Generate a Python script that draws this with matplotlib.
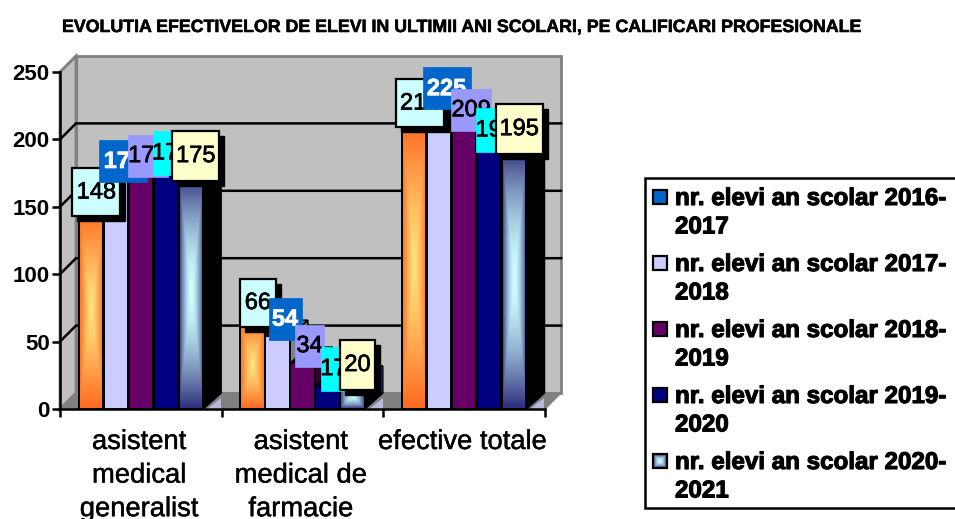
import numpy as np
import matplotlib
matplotlib.use("Agg")
import matplotlib.pyplot as plt
from matplotlib.patches import Polygon, Rectangle
from matplotlib.colors import LinearSegmentedColormap
import matplotlib.patheffects as pe

categories = ["asistent\nmedical\ngeneralist", "asistent\nmedical de\nfarmacie", "efective totale"]
series_labels = ["nr. elevi an scolar 2016-\n2017", "nr. elevi an scolar 2017-\n2018",
                 "nr. elevi an scolar 2018-\n2019", "nr. elevi an scolar 2019-\n2020",
                 "nr. elevi an scolar 2020-\n2021"]
v2016 = [148, 66, 214]
v2017 = [171, 54, 225]
v2018 = [175, 34, 209]
v2019 = [177, 17, 194]
v2020 = [175, 20, 195]
series = [v2016, v2017, v2018, v2019, v2020]
yticks = [0, 50, 100, 150, 200, 250]
title = "EVOLUTIA EFECTIVELOR DE ELEVI IN ULTIMII ANI SCOLARI, PE CALIFICARI PROFESIONALE"

W, H = 955, 519
fig = plt.figure(figsize=(W/100, H/100), dpi=100, facecolor="white")
# front plane of the 3-D box
L, R, B, T = 60, 545, 409, 72
ax = fig.add_axes([L/W, (H-B)/H, (R-L)/W, (B-T)/H])
ax.set_xlim(0, 3); ax.set_ylim(0, 250)
ax.patch.set_visible(False)
px = 3/(R-L); py = 250/(B-T)       # data units per pixel
dx, dy = 16*px, 16*py              # box depth
bdx, bdy = 18*px, 16*py            # bar depth

WALL = "#C0C0C0"; EDGE = "#808080"
ax.add_patch(Polygon([(dx, dy), (3+dx, dy), (3+dx, 250+dy), (dx, 250+dy)], fc=WALL, ec=EDGE, lw=2, clip_on=False, zorder=0.5))
ax.add_patch(Polygon([(0, 0), (dx, dy), (dx, 250+dy), (0, 250)], fc=WALL, ec=EDGE, lw=2, clip_on=False, zorder=0.5))
ax.add_patch(Polygon([(0, 0), (3, 0), (3+dx, dy), (dx, dy)], fc=EDGE, ec=EDGE, lw=1, clip_on=False, zorder=0.6))
for v in yticks[1:-1]:
    ax.plot([0, dx, 3+dx], [v, v+dy, v+dy], color="black", lw=1.8, clip_on=False, zorder=0.7)
ax.plot([0, dx], [250, 250+dy], color=EDGE, lw=1.6, clip_on=False, zorder=0.7)

def rect_gradient(c_edge, c_mid, n=60, power=1.0):
    cm = LinearSegmentedColormap.from_list("g", [c_mid, c_edge])
    u = np.abs(np.linspace(-1, 1, n))
    return cm(np.maximum.outer(u, u)**power)

face_colors = ["#FF6A20", "#CCCCFF", "#660066", "#000080", None]
side_colors = ["#803000", "#808088", "#330033", "#000040", "#000000"]
bar_w = 24.5*px
grad = {0: rect_gradient("#FF6A20", "#FFE680", power=1.2), 4: rect_gradient("#30307F", "#CCFFFF", power=1.7)}

box_fc = ["#CCFFFF", "#0066CC", "#9999FF", "#00FFFF", "#FFFFCC"]
box_h = [48, 42, 42, 44, 50]
box_w3 = [48, 48, 40, 38, 47]
box_w2 = [36, 33, 29, 26, 35]
box_off = [5.5, 7.5, 7, 6, 5]
txt_col = ["black", "white", "black", "black", "black"]
outlined = [True, False, False, False, True]

for g in range(3):
    for s, vals in enumerate(series):
        v = vals[g]
        x0 = g + 0.5 + (s - 2)*(25*px) - bar_w/2
        x1 = x0 + bar_w
        z = 1 + s*0.1 + g
        ax.add_patch(Polygon([(x1, 0), (x1+bdx, bdy), (x1+bdx, v+bdy), (x1, v)], fc=side_colors[s], ec="black", lw=1.2, clip_on=False, zorder=z))
        ax.add_patch(Polygon([(x0, v), (x1, v), (x1+bdx, v+bdy), (x0+bdx, v+bdy)], fc=side_colors[s], ec="black", lw=1.2, clip_on=False, zorder=z))
        if s == 4:
            # lit floor triangle below the last bar and the dark upper end of its side
            ax.add_patch(Polygon([(x1+4*px, 0), (x1+bdx, 0), (x1+bdx, 11*py)], fc="#B8B8DC", ec="none", clip_on=False, zorder=0.8))
            ax.add_patch(Polygon([(x1+bdx-5*px, v+bdy-4*py), (x1+bdx, v+bdy), (x1+bdx, v+bdy-26*py), (x1+bdx-5*px, v+bdy-26*py)], fc="#1C1C60", ec="none", clip_on=False, zorder=z+0.01))
        if s in grad:
            ax.imshow(grad[s], extent=(x0, x1, 0, v), aspect="auto", interpolation="bilinear", zorder=z+0.02, clip_on=False)
            ax.add_patch(Rectangle((x0, 0), bar_w, v, fc="none", ec="black", lw=1.4, clip_on=False, zorder=z+0.03))
        else:
            ax.bar(x0 + bar_w/2, v, width=bar_w, color=face_colors[s], edgecolor="black", linewidth=1.4, zorder=z+0.02, clip_on=False)
        # data label box
        w = (box_w3 if v >= 100 else box_w2)[s]*px
        h = box_h[s]*py
        cx = (x0 + x1)/2 + box_off[s]*px
        cy = v + 17.5*py
        zb = 10 + s*2 + g*20
        if outlined[s]:
            ax.add_patch(Rectangle((cx-w/2+5*px, cy-h/2-5*py), w, h, fc="black", ec="black", lw=1, clip_on=False, zorder=zb))
        ax.add_patch(Rectangle((cx-w/2, cy-h/2), w, h, fc=box_fc[s], ec="black" if outlined[s] else box_fc[s], lw=1.6 if outlined[s] else 0.5, clip_on=False, zorder=zb+0.5))
        ax.text(cx, cy-0.5*py, str(v), ha="center", va="center", color=txt_col[s], fontsize=17,
                family="Liberation Sans", fontweight="bold" if s == 1 else "normal", clip_on=False, zorder=zb+1,
                path_effects=[pe.withStroke(linewidth=0.5, foreground=txt_col[s])])

# axes
for k in ("top", "right"):
    ax.spines[k].set_visible(False)
for k in ("left", "bottom"):
    ax.spines[k].set_linewidth(1.8); ax.spines[k].set_zorder(0.9)
ax.set_yticks(yticks)
ax.set_yticklabels([str(t) for t in yticks], fontsize=16, family="Liberation Sans", fontweight="bold")
ax.tick_params(axis="y", length=6, width=1.8, pad=1.5)
ax.set_xticks([0, 1, 2, 3], labels=["", "", "", ""])
ax.tick_params(axis="x", which="major", length=6, width=1.8)
for i, c in enumerate(categories):
    ax.text(i + 0.49, -20*py, c, ha="center", va="top", fontsize=19.7, family="Liberation Sans",
            linespacing=1.38, clip_on=False, path_effects=[pe.withStroke(linewidth=0.3, foreground="black")])

# overlay in pixel coordinates: title and legend
ov = fig.add_axes([0, 0, 1, 1], zorder=5)
ov.set_xlim(0, W); ov.set_ylim(H, 0); ov.axis("off")
ov.text(62, 27.5, title, ha="left", va="center", fontsize=12.8, family="Liberation Sans", fontweight="bold",
        path_effects=[pe.withStroke(linewidth=0.4, foreground="black")])
ov.add_patch(Rectangle((645, 178), 330, 330, fc="white", ec="black", lw=1.8))
legend_fc = ["#0066CC", "#CCCCFF", "#660066", "#000080", None]
for i, lab in enumerate(series_labels):
    y = 197 + 66*i
    if legend_fc[i] is None:
        ov.imshow(rect_gradient("#30307F", "#CCFFFF", power=1.7), extent=(653, 667, y+7, y-7), aspect="auto", zorder=2)
        ov.add_patch(Rectangle((653, y-7), 14, 14, fc="none", ec="black", lw=1.6, zorder=3))
    else:
        ov.add_patch(Rectangle((653, y-7), 14, 14, fc=legend_fc[i], ec="black", lw=1.6, zorder=3))
    ov.text(675, y-10, lab, ha="left", va="top", fontsize=17.4, family="Liberation Sans", fontweight="bold",
            linespacing=1.3, path_effects=[pe.withStroke(linewidth=0.8, foreground="black")], zorder=3)
ov.set_xlim(0, W); ov.set_ylim(H, 0)
fig.savefig("out.png", dpi=100, facecolor="white")
